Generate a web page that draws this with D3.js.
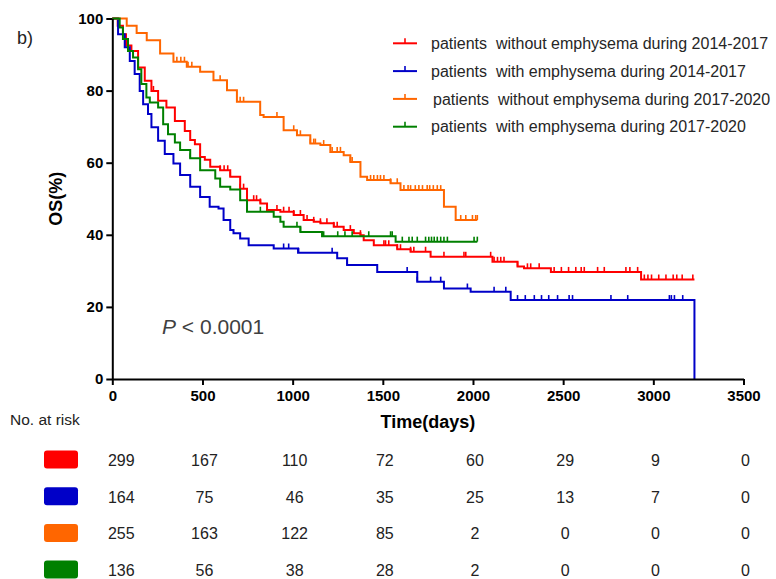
<!DOCTYPE html>
<html>
<head>
<meta charset="utf-8">
<title>OS curves</title>
<script src="https://d3js.org/d3.v7.min.js"></script>
<style>
  body { margin: 0; background: #fff; }
  svg text { font-family: Arial, "Liberation Sans", sans-serif; }
</style>
</head>
<body>
<svg id="chart" width="776" height="579"></svg>
<script>
// group labels (legend), same order as the step lists below
const groupNames = [
    "patients  without emphysema during 2014-2017",
    "patients  with emphysema during 2014-2017",
    "patients  without emphysema during 2017-2020",
    "patients  with emphysema during 2017-2020"
];

// [days, OS %] (value holds after that day)
const redSteps = [[0,100],[30,98],[59,95.6],[76,92.5],[106,91],[143,86.4],[180,82.7],[217,79.9],[254,77.2],[300,75.3],
    [347,71.6],[402,68.8],[432,66.3],[458,65.1],[487,61.6],[513,60.8],[543,58.9],[598,57.9],[654,56.1],
    [709,52.8],[747,49.6],[821,48.7],[858,46.9],[932,46.4],[1006,45.5],[1061,44.1],[1117,43.6],[1154,43.2],
    [1228,42.2],[1283,41.3],[1339,40.4],[1376,39.9],[1394,38.5],[1450,37.1],[1580,36.0],[1654,35.3],
    [1765,33.9],[2108,32.5],[2247,31.2],[2283,30.7],[2432,29.7],[2932,27.6],[3228,27.6]];
const blueSteps = [[0,100],[32,95.6],[69,92],[97,88.2],[124,84.6],[152,79.9],[171,76.2],[198,73.5],[217,69.8],
    [254,66.1],[291,62.4],[339,59.8],[376,56.6],[432,53.3],[487,50.5],[540,47.8],[589,47.3],[617,44.1],
    [654,41.3],[672,40.4],[709,39],[756,37.1],[895,36.2],[1030,35.0],[1247,33.5],[1302,31.6],[1469,29.7],
    [1691,27.0],[1839,25.1],[1987,24.2],[2209,21.9],[3228,0]];
const orangeSteps = [[0,100],[80,98],[135,96],[191,94],[265,90.3],[339,88],[413,86.6],[487,85.2],[561,82.9],
    [636,80.1],[691,76.9],[820,73.2],[839,72.7],[950,69],[1024,67.6],[1098,65.3],[1154,64.9],[1209,63],
    [1283,62.1],[1320,60.2],[1376,56.1],[1413,55.2],[1543,54.3],[1598,52.4],[1839,47.8],[1904,44.1],[2024,44.1]];
const greenSteps = [[0,100],[41,97.5],[59,94.3],[87,91],[115,89.2],[143,85.9],[161,81.8],[189,78.1],[208,76.7],
    [254,75.3],[282,70.7],[309,67.9],[347,65.6],[376,63.5],[432,61.2],[487,57.9],[571,55.6],[598,53.3],
    [654,52.6],[709,49.6],[747,46.4],[895,45],[932,43.6],[950,42.2],[1043,40.8],[1163,39.6],[1571,38.1],[2024,38.1]];

// censored times (days)
const redCensor = [228,598,620,640,654,709,728,784,800,821,913,950,980,1006,1043,1080,1117,1154,1190,1228,1247,
    1320,1376,1506,1515,1533,1580,1598,1654,1672,1737,1839,1950,1960,2098,2117,2136,2154,2172,2247,2302,2320,
    2367,2450,2490,2530,2570,2600,2617,2691,2728,2848,2870,2913,2950,2970,2990,3030,3070,3110,3130,3160,3219];
const blueCensor = [950,978,1033,1219,1302,1635,1691,1765,1821,1969,2117,2182,2247,2290,2340,2380,2420,2469,
    2533,2552,2765,2858,3089,3100,3117,3163];
const orangeCensor = [358,380,400,420,441,598,709,728,913,1006,1043,1098,1117,1126,1172,1219,1247,1265,1320,1330,
    1432,1450,1470,1487,1506,1543,1580,1617,1640,1654,1680,1700,1720,1746,1760,1780,1802,1821,1932,1960,1997,2015,2024];
const greenCensor = [432,821,1024,1043,1172,1250,1290,1330,1422,1543,1552,1608,1645,1663,1691,1737,1755,1770,
    1785,1802,1821,1839,1858,2006,2024];

// number at risk table
const riskTimes = [0, 500, 1000, 1500, 2000, 2500, 3000, 3500];
const riskRed = [299, 167, 110, 72, 60, 29, 9, 0];
const riskBlue = [164, 75, 46, 35, 25, 13, 7, 0];
const riskOrange = [255, 163, 122, 85, 2, 0, 0, 0];
const riskGreen = [136, 56, 38, 28, 2, 0, 0, 0];

const xTicks = [0, 500, 1000, 1500, 2000, 2500, 3000, 3500];
const yTicks = [0, 20, 40, 60, 80, 100];

const colors = ["#ff0000", "#0000c8", "#ff6600", "#008000"];
const series = [
    {steps: redSteps, censor: redCensor, risk: riskRed},
    {steps: blueSteps, censor: blueCensor, risk: riskBlue},
    {steps: orangeSteps, censor: orangeCensor, risk: riskOrange},
    {steps: greenSteps, censor: greenCensor, risk: riskGreen}
];

const svg = d3.select("#chart");
const x = d3.scaleLinear().domain([0, 3500]).range([112.3, 743.5]);
const y = d3.scaleLinear().domain([0, 100]).range([379, 18.5]);

// curves
const line = d3.line().x(d => x(d[0])).y(d => y(d[1])).curve(d3.curveStepAfter);
function survAt(steps, t) {
    let v = steps[0][1];
    for (const s of steps) { if (s[0] <= t) v = s[1]; }
    return v;
}
series.forEach((s, i) => {
    svg.append("path")
        .attr("d", line(s.steps))
        .attr("fill", "none")
        .attr("stroke", colors[i])
        .attr("stroke-width", 2);
    svg.selectAll(".c" + i)
        .data(s.censor)
        .enter().append("line")
        .attr("class", "c" + i)
        .attr("x1", d => x(d)).attr("x2", d => x(d))
        .attr("y1", d => y(survAt(s.steps, d)))
        .attr("y2", d => y(survAt(s.steps, d)) - 5)
        .attr("stroke", colors[i])
        .attr("stroke-width", 1.6);
});

// axes
const yAxis = svg.append("g")
    .attr("transform", `translate(${x(0)},0)`)
    .call(d3.axisLeft(y).tickValues(yTicks).tickSize(6).tickSizeOuter(0).tickPadding(3));
const xAxis = svg.append("g")
    .attr("transform", `translate(0,${y(0)})`)
    .call(d3.axisBottom(x).tickValues(xTicks).tickFormat(d3.format("d"))
        .tickSize(6).tickSizeOuter(0).tickPadding(5));
[yAxis, xAxis].forEach(g => {
    g.select(".domain").attr("stroke", "#000").attr("stroke-width", 2);
    g.selectAll(".tick line").attr("stroke", "#000").attr("stroke-width", 2);
    g.selectAll(".tick text")
        .attr("fill", "#000")
        .style("font-size", "15px")
        .style("font-weight", "bold")
        .style("font-family", "Arial, 'Liberation Sans', sans-serif");
});

svg.append("text")
    .attr("transform", `translate(62,${(y(0) + y(100)) / 2}) rotate(-90)`)
    .attr("text-anchor", "middle")
    .style("font-size", "18px").style("font-weight", "bold")
    .text("OS(%)");
svg.append("text")
    .attr("x", (x(0) + x(3500)) / 2).attr("y", 428)
    .attr("text-anchor", "middle")
    .style("font-size", "18px").style("font-weight", "bold")
    .text("Time(days)");

svg.append("text").attr("x", 17).attr("y", 44)
    .style("font-size", "18px").attr("fill", "#222").text("b)");

const ptxt = svg.append("text").attr("x", 162).attr("y", 334)
    .style("font-size", "21px").attr("fill", "#404040");
ptxt.append("tspan").style("font-style", "italic").text("P");
ptxt.append("tspan").text(" < 0.0001");

// legend
const legend = svg.append("g");
groupNames.forEach((name, i) => {
    const ly = 43.3 + i * 27.8;
    legend.append("line").attr("x1", 393).attr("x2", 417).attr("y1", ly).attr("y2", ly)
        .attr("stroke", colors[i]).attr("stroke-width", 2);
    legend.append("line").attr("x1", 405).attr("x2", 405).attr("y1", ly).attr("y2", ly - 5)
        .attr("stroke", colors[i]).attr("stroke-width", 1.6);
    legend.append("text").attr("x", i === 2 ? 433 : 431).attr("y", ly).attr("dy", "0.35em")
        .style("font-size", "16px").style("white-space", "pre").attr("fill", "#262626")
        .text(name);
});

// number at risk
svg.append("text").attr("x", 10).attr("y", 425)
    .style("font-size", "15.5px").attr("fill", "#222").text("No. at risk");
series.forEach((s, i) => {
    const rowY = 466 + i * 36.7;
    svg.append("rect").attr("x", 44).attr("y", rowY - 15.5).attr("width", 34).attr("height", 18)
        .attr("rx", 3).attr("fill", colors[i]);
    svg.selectAll(".r" + i)
        .data(s.risk)
        .enter().append("text")
        .attr("class", "r" + i)
        .attr("x", (d, j) => x(riskTimes[j]) + (j === 0 ? 9 : 2))
        .attr("y", rowY)
        .attr("text-anchor", "middle")
        .style("font-size", "16px").attr("fill", "#222")
        .text(d => d);
});
</script>
</body>
</html>
